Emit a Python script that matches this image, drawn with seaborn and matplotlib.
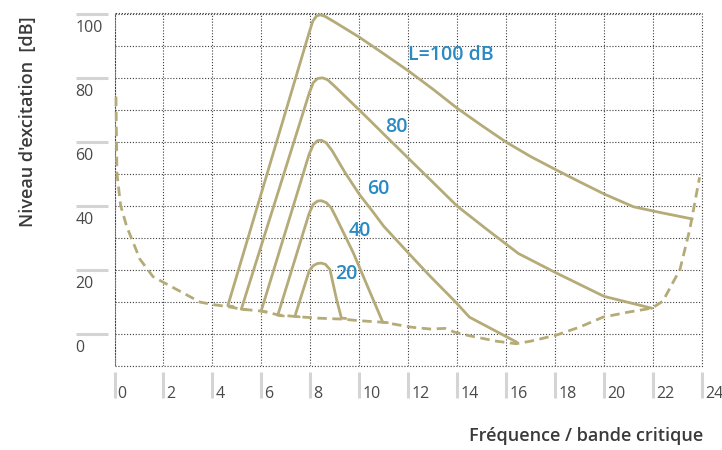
import matplotlib

matplotlib.use("Agg")

import matplotlib.pyplot as plt
import matplotlib.transforms as mtransforms
import pandas as pd
import seaborn as sns
from matplotlib.patches import Rectangle


# excitation curves (critical band, level in dB)
L100_X = [4.85, 4.63, 7.95, 8.1, 8.25, 8.4, 8.6, 9.0, 10.0, 11.0, 12.0, 13.0,
          14.0, 15.0, 16.0, 17.0, 18.0, 19.0, 20.0, 21.2, 22.3, 23.6]
L100_Y = [8.4, 8.7, 94.0, 97.6, 99.2, 99.6, 99.1, 97.3, 92.6, 87.4, 82.1, 76.4,
          70.4, 65.0, 59.8, 55.3, 51.3, 47.4, 43.6, 39.6, 37.8, 35.8]

L80_X = [5.4, 5.18, 7.95, 8.12, 8.3, 8.5, 8.7, 8.95, 10.3, 11.0, 12.0, 13.0,
         14.0, 15.2, 16.5, 18.0, 20.0, 21.95]
L80_Y = [7.4, 7.6, 75.0, 78.4, 79.7, 79.9, 79.3, 77.6, 67.6, 62.3, 54.8, 47.3,
         39.8, 32.6, 25.0, 19.1, 11.6, 7.9]

L60_X = [6.2, 5.99, 7.95, 8.12, 8.3, 8.45, 8.65, 8.9, 9.4, 10.0, 10.5, 11.0,
         12.06, 12.88, 13.9, 14.5, 16.43]
L60_Y = [6.8, 7.0, 56.0, 59.0, 60.3, 60.4, 59.6, 57.0, 50.5, 43.5, 38.6, 33.5,
         24.7, 18.0, 10.1, 5.1, -2.7]

L40_X = [6.9, 6.67, 7.95, 8.12, 8.3, 8.45, 8.65, 8.85, 9.07, 9.75, 10.96, 11.15]
L40_Y = [5.5, 5.7, 37.5, 40.4, 41.4, 41.5, 40.9, 39.3, 36.0, 25.3, 3.5, 3.4]

L20_X = [7.55, 7.37, 7.95, 8.12, 8.3, 8.45, 8.62, 8.8, 9.07, 9.27, 9.45]
L20_Y = [5.2, 5.4, 19.5, 21.2, 21.9, 22.0, 21.6, 20.0, 10.7, 4.8, 4.7]

# threshold in quiet (dashed)
THRESH_X = [0.06, 0.1, 0.25, 0.5, 1.04, 1.57, 2.14, 3.5, 4.06, 4.63, 5.2, 6.0,
            6.7, 7.4, 8.3, 9.3, 10.0, 11.0, 12.1, 12.9, 13.5, 13.9, 14.5, 15.6,
            16.4, 17.0, 18.05, 19.0, 19.95, 21.0, 21.95, 22.4, 23.1, 23.5, 23.9]
THRESH_Y = [74.0, 50.0, 40.0, 33.4, 23.2, 17.8, 15.4, 9.8, 9.0, 8.4, 7.6, 7.0,
            5.8, 5.3, 4.8, 4.5, 4.0, 3.5, 2.0, 1.4, 1.6, 0.4, -0.7, -2.4, -3.2,
            -2.4, -0.5, 2.0, 5.1, 6.7, 7.9, 10.1, 20.0, 32.5, 48.8]

CURVE_NAMES = ["100", "80", "60", "40", "20"]
CURVE_LABELS = ["L=100 dB", "80", "60", "40", "20"]
LABEL_X = [11.98, 11.04, 10.31, 9.57, 9.0]
LABEL_Y = [87.0, 64.4, 45.0, 32.0, 18.5]

X_TICKS = list(range(0, 25, 2))
Y_TICKS = list(range(0, 101, 20))
Y_GRID = list(range(-10, 101, 10))

LINE_COLOR = "#b5ab78"
LABEL_COLOR = "#2a8ac4"
W, H = 722, 450


def build_curves():
    xs = [L100_X, L80_X, L60_X, L40_X, L20_X]
    ys = [L100_Y, L80_Y, L60_Y, L40_Y, L20_Y]
    frames = []
    for name, x, y in zip(CURVE_NAMES, xs, ys):
        frames.append(pd.DataFrame({"niveau": name, "bande": x, "dB": y}))
    return pd.concat(frames, ignore_index=True)


def main():
    sns.set_theme(style="white")
    plt.rcParams["font.family"] = ["Open Sans", "DejaVu Sans"]

    fig = plt.figure(figsize=(W / 100, H / 100), dpi=100)
    ax = fig.add_axes([114.5 / W, 1 - 365.5 / H, (702 - 114.5) / W, 352 / H])

    curves = build_curves()
    sns.lineplot(data=curves, x="bande", y="dB", units="niveau", estimator=None,
                 sort=False, color=LINE_COLOR, linewidth=2.0, ax=ax)

    thresh = pd.DataFrame({"bande": THRESH_X, "dB": THRESH_Y})
    sns.lineplot(data=thresh, x="bande", y="dB", sort=False, estimator=None,
                 color=LINE_COLOR, linewidth=2.0, linestyle=(0, (3.4, 2.0)),
                 clip_on=False, ax=ax)

    for text, x, y in zip(CURVE_LABELS, LABEL_X, LABEL_Y):
        ax.text(x, y, text, color=LABEL_COLOR, fontsize=14, fontweight="semibold",
                ha="left", va="center")

    ax.set_xlim(0, 24)
    ax.set_ylim(-10, 100)
    ax.set_xticks(X_TICKS)
    ax.set_yticks(Y_TICKS)
    ax.set_yticks(Y_GRID, minor=True)
    ax.grid(which="both", color="#3c3c3c", linestyle=(0, (1, 1.6)), linewidth=0.8)
    ax.add_patch(Rectangle((0, 0), 1, 1, transform=ax.transAxes, fill=False,
                           edgecolor="#3c3c3c", linestyle=(0, (1, 1.6)),
                           linewidth=0.8, clip_on=False))

    for side in ["top", "right", "left", "bottom"]:
        ax.spines[side].set_visible(False)
    ax.spines["left"].set_position(("outward", 5))
    ax.spines["bottom"].set_position(("outward", 5))

    ax.tick_params(axis="y", which="major", left=True, direction="out",
                   length=23, width=2.2, color="#d4d4d4", pad=0,
                   labelsize=11.5, labelcolor="#4a4a4a")
    ax.tick_params(axis="x", which="major", bottom=True, direction="out",
                   length=19, width=2.2, color="#d4d4d4", pad=-9.5,
                   labelsize=11.5, labelcolor="#4a4a4a")
    ax.tick_params(which="minor", length=0)

    down = mtransforms.ScaledTranslation(0, -12.5 / 100, fig.dpi_scale_trans)
    for label in ax.get_yticklabels():
        label.set_horizontalalignment("left")
        label.set_transform(label.get_transform() + down)
    right = mtransforms.ScaledTranslation(3 / 100, 0, fig.dpi_scale_trans)
    for label in ax.get_xticklabels():
        label.set_horizontalalignment("left")
        label.set_transform(label.get_transform() + right)

    ax.set_xlabel("")
    ax.set_ylabel("")
    fig.text(28 / W, 1 - 122 / H, "Niveau d'excitation  [dB]", rotation=90,
             ha="center", va="center", fontsize=13, fontweight="semibold",
             color="#3a3a3a")
    fig.text(703 / W, 1 - 436 / H, "Fréquence / bande critique", ha="right",
             va="center", fontsize=13, fontweight="semibold", color="#3a3a3a")

    fig.savefig("out.png", dpi=100)
    plt.close(fig)


if __name__ == "__main__":
    main()
